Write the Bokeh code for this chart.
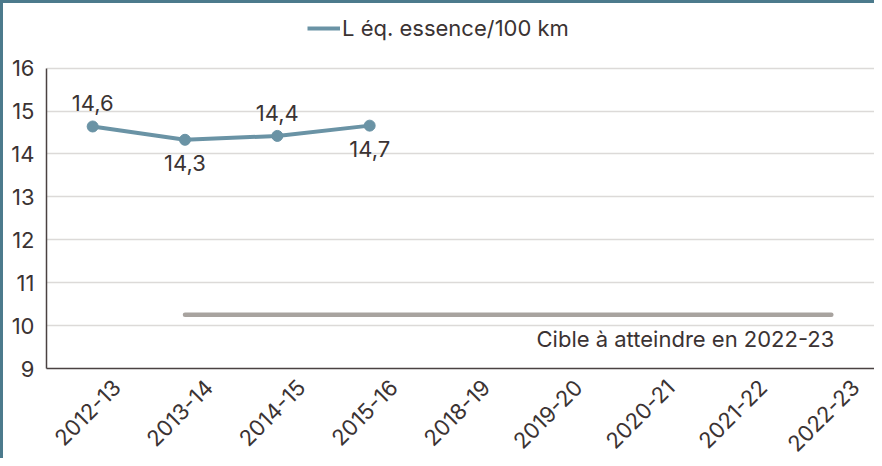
import math
from bokeh.plotting import figure
from bokeh.models import (ColumnDataSource, Legend, LegendItem, FixedTicker)
from bokeh.core.properties import value
from bokeh.embed import file_html
from bokeh.resources import INLINE

categories = ["2012-13", "2013-14", "2014-15", "2015-16", "2018-19",
              "2019-20", "2020-21", "2021-22", "2022-23"]
series_years = ["2012-13", "2013-14", "2014-15", "2015-16"]
series_values = [14.64, 14.33, 14.42, 14.66]
series_labels = ["14,6", "14,3", "14,4", "14,7"]
label_above = [True, False, True, False]
series_name = "L éq. essence/100 km"
target_years = ["2013-14", "2022-23"]
target_values = [10.25, 10.25]
target_text = "Cible à atteindre en 2022-23"
target_text_y = 9.68
y_ticks = [9, 10, 11, 12, 13, 14, 15, 16]

FONT = "Inter"
FS = "22px"
TXT = "#3b3333"
BLUE = "#6a93a5"
GRAY = "#a8a39f"
AXIS = "#4a4242"

# category slot centres on a numeric axis (slot i spans i..i+1)
pos = {c: i + 0.5 for i, c in enumerate(categories)}

# the frame reaches above 16 so the legend can sit there; axis line stops at 16
p = figure(x_range=(0, len(categories)), y_range=(9, 17.11), output_backend="svg",
           toolbar_location=None, width=874, height=458,
           min_border_left=43, min_border_right=0, min_border_top=17,
           min_border_bottom=80, background_fill_color="white",
           border_fill_color="white")
p.styles = {"border-left": "3px solid #4c7a8c", "border-top": "3px solid #4c7a8c"}
p.outline_line_color = None

p.xgrid.grid_line_color = None
p.ygrid.grid_line_color = "#dcdad8"
p.ygrid.grid_line_width = 1.5
p.yaxis.ticker = FixedTicker(ticks=y_ticks)
p.yaxis.bounds = (y_ticks[0], y_ticks[-1])

# category labels: rotated, their ends sit a little right of the slot centre
shift = 0.26
lab_ticks = [round(pos[c] + shift, 2) for c in categories]
p.xaxis.ticker = FixedTicker(ticks=lab_ticks)
p.xaxis.major_label_overrides = {t: c for t, c in zip(lab_ticks, categories)}
p.xaxis.major_label_orientation = math.pi / 4
p.xaxis.major_label_standoff = 9
p.yaxis.major_label_standoff = 6
for ax in (p.xaxis[0], p.yaxis[0]):
    ax.axis_line_color = AXIS
    ax.axis_line_width = 1.5
    ax.major_tick_line_color = None
    ax.minor_tick_line_color = None
    ax.major_label_text_font = FONT
    ax.major_label_text_color = TXT
    ax.major_label_text_font_size = FS

# target line
p.line(x=[pos[c] for c in target_years], y=target_values, line_color=GRAY,
       line_width=4.5, line_cap="round")
tsrc = ColumnDataSource(dict(x=[pos[categories[-1]]], y=[target_text_y], t=[target_text]))
p.text(x="x", y="y", text="t", source=tsrc, text_font=value(FONT),
       text_font_size=FS, text_color=TXT, text_align="right",
       text_baseline="middle", x_offset=3)

src = ColumnDataSource(dict(x=[pos[c] for c in series_years], y=series_values,
                            lab=series_labels,
                            off=[-23 if a else 23 for a in label_above]))
r_line = p.line(x="x", y="y", source=src, line_color=BLUE, line_width=4)
p.scatter(x="x", y="y", source=src, size=11, fill_color=BLUE, line_color=BLUE)
p.text(x="x", y="y", text="lab", source=src, y_offset="off",
       text_font=value(FONT), text_font_size=FS, text_color=TXT,
       text_align="center", text_baseline="middle")

legend = Legend(items=[LegendItem(label=series_name, renderers=[r_line])],
                location=(261, 327), orientation="horizontal",
                label_text_font=FONT, label_text_font_size=FS,
                label_text_color=TXT, glyph_width=33, glyph_height=22,
                label_standoff=2, border_line_color=None,
                background_fill_alpha=0, padding=0, margin=0)
p.add_layout(legend)

open("out.html", "w").write(file_html(p, INLINE))
